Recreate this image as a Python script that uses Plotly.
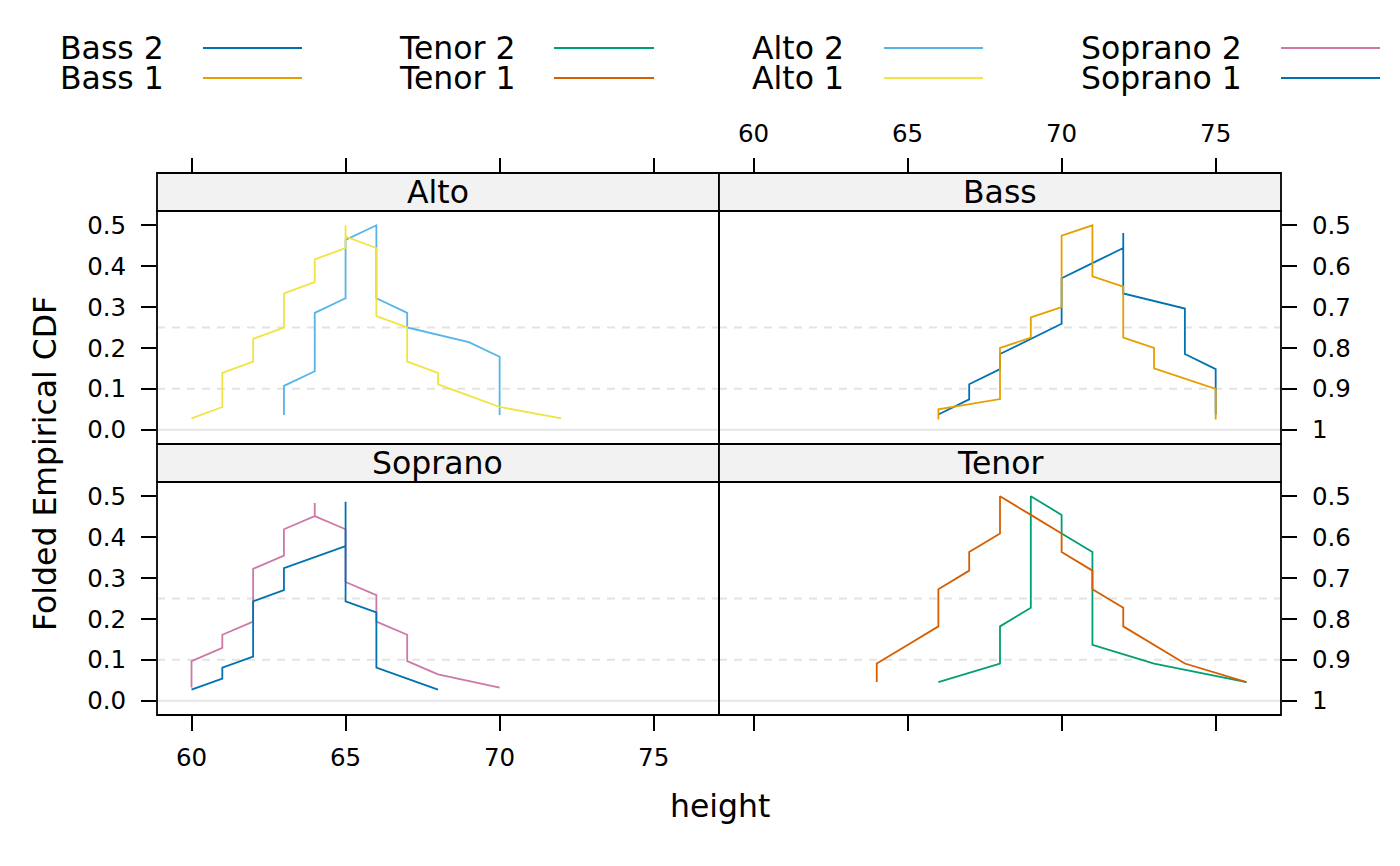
import plotly.graph_objects as go

# ---- data: counts of singers at each height (inches), per voice part ----
heights = list(range(60, 77))  # 60..76

counts = {
    "Bass 2":    [0, 0, 0, 0, 0, 0, 1, 2, 2, 1, 4, 1, 7, 0, 4, 4, 0],
    "Bass 1":    [0, 0, 0, 0, 0, 0, 2, 0, 6, 3, 8, 6, 6, 3, 1, 4, 0],
    "Tenor 2":   [0, 0, 0, 0, 0, 0, 1, 0, 3, 7, 2, 6, 0, 1, 0, 0, 1],
    "Tenor 1":   [0, 0, 0, 0, 2, 1, 3, 2, 3, 1, 2, 2, 2, 1, 1, 0, 1],
    "Alto 2":    [0, 0, 0, 3, 5, 5, 6, 2, 0, 1, 5, 0, 0, 0, 0, 0, 0],
    "Alto 1":    [1, 4, 3, 4, 3, 4, 7, 4, 2, 1, 1, 0, 1, 0, 0, 0, 0],
    "Soprano 2": [3, 2, 5, 3, 4, 5, 3, 3, 1, 0, 1, 0, 0, 0, 0, 0, 0],
    "Soprano 1": [1, 2, 6, 3, 1, 15, 6, 1, 1, 0, 0, 0, 0, 0, 0, 0, 0],
}

voice_parts = ["Bass 2", "Bass 1", "Tenor 2", "Tenor 1",
               "Alto 2", "Alto 1", "Soprano 2", "Soprano 1"]
colors = ["#0072B2", "#E69F00", "#009E73", "#D55E00",
          "#56B4E9", "#F0E442", "#CC79A7", "#0072B2"]
panel_of = {"Bass 2": "Bass", "Bass 1": "Bass", "Tenor 2": "Tenor", "Tenor 1": "Tenor",
            "Alto 2": "Alto", "Alto 1": "Alto", "Soprano 2": "Soprano", "Soprano 1": "Soprano"}

panels = ["Alto", "Bass", "Soprano", "Tenor"]
x_ticks = [60, 65, 70, 75]
y_ticks = [0.0, 0.1, 0.2, 0.3, 0.4, 0.5]
y_left_labels = ["0.0", "0.1", "0.2", "0.3", "0.4", "0.5"]
y_right_labels = ["1", "0.9", "0.8", "0.7", "0.6", "0.5"]
ref_solid = [0.0]
ref_dashed = [0.1, 0.25]

W, H = 1400, 866
def px(x): return x / W
def py(y): return 1 - y / H

FONT = "DejaVu Sans"
BIG = 31.5
TICK = 24.5
cols = {"L": (157, 719), "R": (719, 1281)}
rows = {"T": ((173, 211), (211, 444)), "B": ((444, 482), (482, 715))}
panel_pos = {"Alto": ("L", "T"), "Bass": ("R", "T"), "Soprano": ("L", "B"), "Tenor": ("R", "B")}
axis_idx = {"Alto": "", "Bass": "2", "Soprano": "3", "Tenor": "4"}

xr = [58.88, 77.12]
yr = [-0.035, 0.535]

def folded_ecdf(cnt):
    xs = []
    for h, c in zip(heights, cnt):
        xs += [h] * c
    n = len(xs)
    ys = []
    for i in range(1, n + 1):
        p = i / (n + 1)
        ys.append(min(p, 1 - p))
    return xs, ys

fig = go.Figure()

for vp, col in zip(voice_parts, colors):
    xs, ys = folded_ecdf(counts[vp])
    k = axis_idx[panel_of[vp]]
    fig.add_trace(go.Scatter(x=xs, y=ys, mode="lines", line=dict(color=col, width=1.8),
                             xaxis="x" + k, yaxis="y" + k, showlegend=False,
                             name=vp, hoverinfo="x+y+name"))

layout = dict(width=W, height=H, margin=dict(l=0, r=0, t=0, b=0),
              plot_bgcolor="white", paper_bgcolor="white",
              font=dict(family=FONT, color="black", size=TICK), showlegend=False)

shapes = []
annotations = []
for p in panels:
    c, r = panel_pos[p]
    (x0, x1) = cols[c]
    (s0, s1), (p0, p1) = rows[r]
    k = axis_idx[p]
    xa = dict(domain=[px(x0), px(x1)], range=xr, tickvals=x_ticks, ticktext=[str(v) for v in x_ticks],
              ticks="outside", ticklen=15, tickwidth=1.6, tickcolor="black",
              showgrid=False, zeroline=False, showline=False,
              tickfont=dict(size=TICK, family=FONT, color="black"), ticklabelstandoff=6)
    if r == "T":
        xa.update(anchor="free", position=py(s0), side="top", showticklabels=(c == "R"))
    else:
        xa.update(anchor="y" + k, side="bottom", showticklabels=(c == "L"))
    ya = dict(domain=[py(p1), py(p0)], range=yr, tickvals=y_ticks,
              ticktext=(y_left_labels if c == "L" else y_right_labels),
              ticks="outside", ticklen=15, tickwidth=1.6, tickcolor="black",
              showgrid=False, zeroline=False, showline=False, anchor="x" + k,
              side=("left" if c == "L" else "right"),
              tickfont=dict(size=TICK, family=FONT, color="black"), ticklabelstandoff=10)
    layout["xaxis" + k] = xa
    layout["yaxis" + k] = ya

    # reference lines
    for v in ref_solid:
        shapes.append(dict(type="line", xref="x" + k + " domain", yref="y" + k, x0=0, x1=1, y0=v, y1=v,
                           line=dict(color="#E6E6E6", width=2), layer="below"))
    for v in ref_dashed:
        shapes.append(dict(type="line", xref="x" + k + " domain", yref="y" + k, x0=0, x1=1, y0=v, y1=v,
                           line=dict(color="#E3E3E3", width=2, dash="8px,7px"), layer="below"))
    # strip
    shapes.append(dict(type="rect", xref="paper", yref="paper", x0=px(x0), x1=px(x1), y0=py(s1), y1=py(s0),
                       fillcolor="#F2F2F2", line=dict(color="black", width=1.8), layer="below"))
    annotations.append(dict(text=p, xref="paper", yref="paper", x=px((x0 + x1) / 2), y=py((s0 + s1) / 2),
                            showarrow=False, xanchor="center", yanchor="middle",
                            font=dict(size=BIG, family=FONT, color="black")))
    # panel border
    shapes.append(dict(type="rect", xref="paper", yref="paper", x0=px(x0), x1=px(x1), y0=py(p1), y1=py(p0),
                       line=dict(color="black", width=1.8), fillcolor="rgba(0,0,0,0)", layer="above"))

# legend (drawn as key)
legend_cols = [(58, 203, 302), (397, 554, 654), (750, 884, 983), (1079, 1281, 1380)]
legend_rows = [48, 78]
for j, (tx, l0, l1) in enumerate(legend_cols):
    for rr in range(2):
        vi = 2 * j + rr
        yy = legend_rows[rr]
        annotations.append(dict(text=voice_parts[vi], xref="paper", yref="paper", x=px(tx), y=py(yy),
                                showarrow=False, xanchor="left", yanchor="middle",
                                font=dict(size=BIG, family=FONT, color="black")))
        shapes.append(dict(type="line", xref="paper", yref="paper", x0=px(l0), x1=px(l1),
                           y0=py(yy), y1=py(yy), line=dict(color=colors[vi], width=1.8)))

# axis titles
annotations.append(dict(text="height", xref="paper", yref="paper", x=px(720), y=py(806),
                        showarrow=False, xanchor="center", yanchor="middle",
                        font=dict(size=BIG, family=FONT, color="black")))
annotations.append(dict(text="Folded Empirical CDF", xref="paper", yref="paper", x=px(45), y=py(464),
                        showarrow=False, xanchor="center", yanchor="middle", textangle=-90,
                        font=dict(size=BIG, family=FONT, color="black")))

layout["shapes"] = shapes
layout["annotations"] = annotations
fig.update_layout(**layout)
fig.write_html("out.html")
